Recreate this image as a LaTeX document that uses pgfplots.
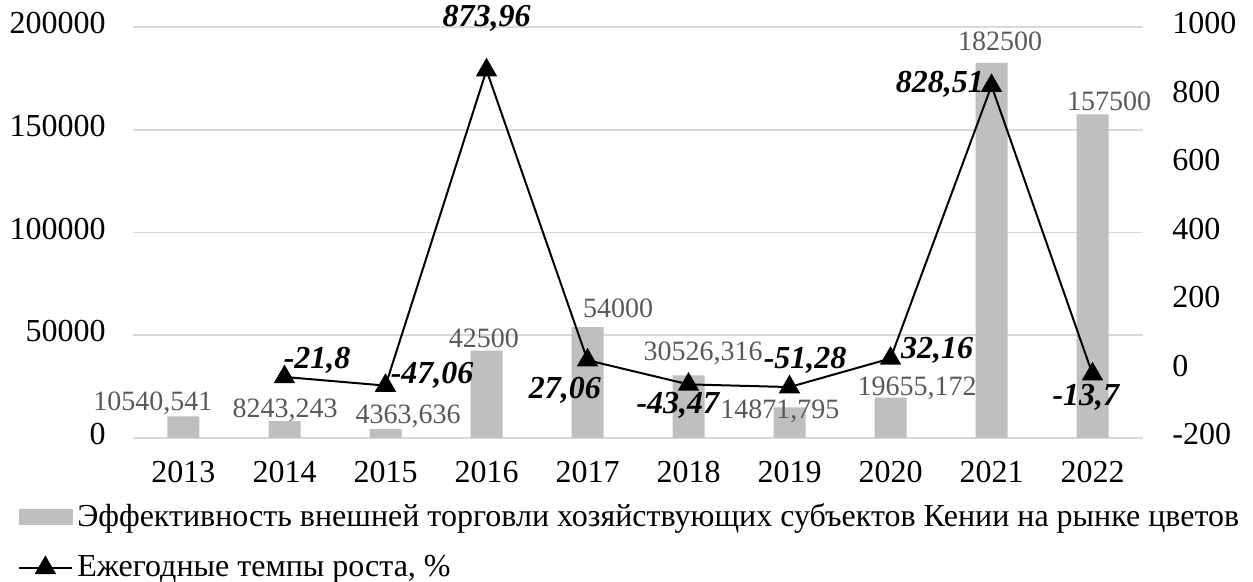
\documentclass[border=0pt]{standalone}
\usepackage{pgfplots}
\pgfplotsset{compat=1.18}
\usepackage{pgfplotstable}
\usepackage{fontspec}
\setmainfont{Liberation Serif}
\definecolor{barg}{HTML}{BFBFBF}
\definecolor{labg}{HTML}{595959}
\definecolor{gridg}{HTML}{D9D9D9}

\pgfplotstableread{
x y lab dx dy
0 10540.541 10540,541 -15.3 6.3
1 8243.243 8243,243 0.3 5
2 4363.636 4363,636 11.3 6
3 42500 42500 -1.3 4.9
4 54000 54000 15.3 8
5 30526.316 30526,316 7.3 10.7
6 14871.795 14871,795 -4.8 -2.3
7 19655.172 19655,172 13.3 4.3
8 182500 182500 4.3 9.5
9 157500 157500 8.3 5.2
}\bars

\pgfplotstableread{
x y lab dx dy
1 -21.8 -21,8 16.3 7.5
2 -47.06 -47,06 23.3 4.3
3 873.96 873,96 0 25
4 27.06 27,06 -11.3 -15.9
5 -43.47 -43,47 -5.3 -11.3
6 -51.28 -51,28 7.8 12.5
7 32.16 32,16 23.3 3.3
8 828.51 828,51 -25.8 0
9 -13.7 -13,7 -3.3 -12.5
}\growth

\newcommand\tickfont{\fontsize{16}{18.5}\selectfont}

\begin{document}
\begin{tikzpicture}
\begin{axis}[
  name=ax,
  width=505pt, height=205.5pt, scale only axis,
  xmin=-0.5, xmax=9.5, ymin=0, ymax=200000,
  xtick={0,...,9},
  xticklabels={2013,2014,2015,2016,2017,2018,2019,2020,2021,2022},
  ytick={0,50000,100000,150000,200000},
  axis line style={draw=none},
  major tick length=0pt,
  ymajorgrids, grid style={gridg, line width=0.9pt},
  scaled y ticks=false,
  /pgf/number format/fixed, /pgf/number format/1000 sep={},
  /pgf/number format/assume math mode=true,
  tick label style={font=\tickfont, inner sep=0pt, text height=0.66em, text depth=0pt},
  yticklabel style={xshift=-13.5pt},
  xticklabel style={yshift=-15.5pt},
]
\addplot[ybar, bar width=16pt, fill=barg, draw=none,
  point meta=explicit symbolic,
  nodes near coords,
  visualization depends on={\thisrow{dx} \as \dx},
  visualization depends on={\thisrow{dy} \as \dy},
  every node near coord/.append style={anchor=center, xshift=\dx pt, yshift=\dy pt,
     font=\fontsize{14}{16}\selectfont, text=labg, inner sep=0pt, text height=0.66em, text depth=0pt},
] table[x=x, y=y, meta=lab] {\bars};
\end{axis}

\begin{axis}[
  width=505pt, height=205.5pt, scale only axis,
  xmin=-0.5, xmax=9.5, ymin=-200, ymax=1000,
  ytick={-200,0,200,400,600,800,1000},
  axis y line*=right, axis x line=none,
  axis line style={draw=none},
  major tick length=0pt,
  /pgf/number format/fixed, /pgf/number format/1000 sep={},
  /pgf/number format/assume math mode=true,
  tick label style={font=\tickfont, inner sep=0pt, text height=0.66em, text depth=0pt},
  yticklabel style={xshift=14.5pt},
  legend cell align=left,
  legend style={at={(-0.1139,-0.1493)}, anchor=north west, draw=none, fill=none,
    font=\tickfont, row sep=9pt, inner sep=0pt},
]
\addlegendimage{legend image code/.code={\fill[barg] (0pt,-3.75pt) rectangle (26.5pt,3.75pt);}}
\addlegendentry{Эффективность внешней торговли хозяйствующих субъектов Кении на рынке цветов}
\addplot[black, line width=1pt, mark=triangle*, mark size=5.2pt, mark options={solid, fill=black},
  point meta=explicit symbolic,
  nodes near coords,
  visualization depends on={\thisrow{dx} \as \dx},
  visualization depends on={\thisrow{dy} \as \dy},
  every node near coord/.append style={anchor=center, xshift=\dx pt, yshift=\dy pt,
     font=\fontsize{16}{18}\selectfont\bfseries\itshape, text=black, inner sep=0pt, text height=0.66em, text depth=0pt},
  legend image code/.code={\draw[black, line width=1pt] (0pt,0pt)--(26.5pt,0pt);
     \draw[black, fill=black] plot[mark=triangle*, mark size=5.2pt] coordinates {(13pt,0pt)};},
] table[x=x, y=y, meta=lab] {\growth};
\addlegendentry{Ежегодные темпы роста, \%}
\end{axis}
\pgfresetboundingbox
\path ([shift={(-66.5pt,-72pt)}]ax.south west) rectangle ++(626.5pt,291pt);
\end{tikzpicture}
\end{document}
